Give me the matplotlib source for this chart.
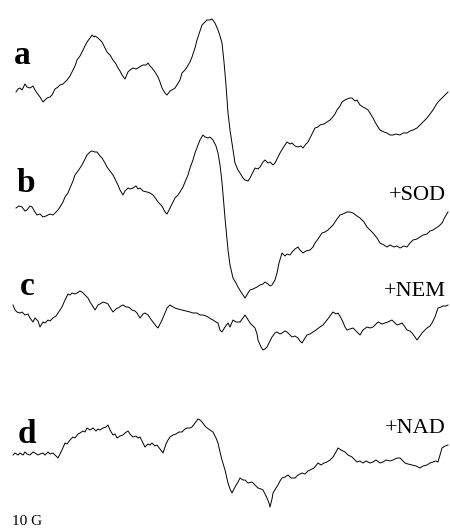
import matplotlib.pyplot as plt

# traces as (x, y) points, in figure pixel units (x right, y down)
trace_a = [
    (16, 92), (18, 89), (20, 88), (22, 90), (25, 84), (27, 87), (30, 88), (33, 86), (35, 90), (37, 93),
    (40, 97), (43, 102), (45, 100), (47, 98), (50, 97), (52, 95), (55, 89), (58, 87), (60, 85), (63, 84),
    (67, 80), (70, 76), (72, 72), (75, 66), (77, 60), (80, 56), (82, 52), (85, 46), (87, 42), (90, 38),
    (92, 35), (94, 37), (95, 36), (98, 38), (100, 40), (102, 42), (105, 48), (107, 52), (110, 55),
    (113, 60), (116, 64), (118, 68), (120, 71), (122, 75), (125, 79), (128, 72), (130, 70), (133, 68),
    (136, 69), (138, 68), (141, 66), (143, 65), (146, 65), (148, 63), (150, 66), (152, 68), (155, 72),
    (158, 77), (160, 82), (162, 88), (165, 93), (167, 95), (170, 91), (172, 90), (175, 88), (177, 85),
    (180, 80), (182, 73), (185, 70), (187, 67), (190, 62), (192, 57), (195, 48), (197, 40), (200, 31),
    (202, 25), (205, 22), (207, 20), (210, 20), (212, 19), (215, 23), (218, 30), (220, 36), (222, 43),
    (224, 62), (226, 85), (228, 113), (230, 130), (232, 143), (235, 163), (238, 170), (240, 173),
    (243, 178), (245, 180), (248, 181), (250, 178), (253, 172), (255, 168), (258, 169), (260, 167),
    (263, 162), (265, 160), (268, 163), (270, 162), (273, 165), (275, 163), (278, 157), (280, 153),
    (283, 148), (287, 142), (290, 144), (292, 143), (295, 146), (298, 147), (301, 146), (303, 148),
    (306, 144), (308, 142), (311, 136), (315, 128), (318, 127), (320, 125), (324, 124), (327, 122),
    (330, 120), (332, 118), (335, 114), (337, 110), (340, 106), (342, 102), (345, 100), (347, 99),
    (350, 98), (352, 98), (355, 101), (357, 100), (360, 105), (363, 107), (365, 108), (368, 110),
    (370, 113), (373, 118), (375, 122), (378, 127), (380, 130), (384, 132), (387, 133), (390, 135),
    (393, 135), (396, 134), (400, 135), (403, 133), (407, 133), (410, 131), (413, 130), (417, 128),
    (420, 125), (424, 121), (427, 118), (430, 114), (433, 110), (436, 105), (438, 102), (441, 99),
    (443, 97), (446, 94), (448, 92),
]

trace_b = [
    (16, 208), (19, 206), (22, 207), (25, 211), (27, 210), (30, 206), (32, 207), (35, 212), (37, 215),
    (40, 214), (43, 217), (46, 216), (48, 215), (50, 214), (53, 215), (55, 213), (58, 210), (60, 207),
    (63, 202), (65, 197), (68, 193), (70, 188), (73, 181), (75, 175), (78, 171), (80, 168), (82, 165),
    (85, 159), (87, 155), (90, 152), (92, 151), (95, 152), (97, 152), (100, 156), (102, 158), (105, 163),
    (107, 167), (110, 171), (113, 175), (115, 179), (118, 185), (120, 190), (123, 195), (125, 191),
    (128, 188), (130, 189), (133, 188), (136, 186), (138, 189), (140, 188), (143, 191), (147, 192),
    (150, 193), (153, 195), (156, 199), (158, 202), (161, 205), (163, 208), (165, 212), (167, 214),
    (170, 208), (172, 204), (175, 198), (178, 195), (180, 192), (183, 187), (185, 182), (188, 175),
    (190, 168), (193, 160), (195, 153), (198, 145), (200, 140), (203, 135), (205, 137), (208, 138),
    (210, 137), (213, 140), (216, 146), (218, 153), (220, 165), (222, 182), (225, 218), (228, 250),
    (230, 265), (233, 278), (236, 283), (238, 287), (241, 292), (243, 295), (245, 298), (248, 293),
    (250, 290), (253, 289), (257, 287), (260, 285), (263, 284), (265, 282), (268, 284), (270, 286),
    (272, 285), (275, 280), (277, 273), (279, 263), (282, 253), (285, 256), (287, 254), (290, 255),
    (293, 251), (295, 249), (298, 247), (300, 250), (303, 253), (306, 251), (310, 250), (313, 247),
    (315, 243), (318, 239), (322, 233), (325, 232), (328, 230), (331, 227), (333, 225), (337, 219),
    (340, 215), (343, 214), (347, 212), (350, 212), (353, 213), (357, 216), (360, 218), (364, 222),
    (367, 227), (370, 230), (373, 233), (377, 238), (380, 243), (384, 245), (387, 247), (390, 245),
    (394, 247), (397, 246), (400, 248), (404, 246), (407, 247), (410, 243), (413, 240), (417, 239),
    (420, 237), (423, 235), (427, 234), (430, 231), (433, 230), (436, 228), (439, 226), (442, 223),
    (445, 217), (448, 212),
]

trace_c = [
    (13, 305), (15, 310), (17, 312), (20, 313), (22, 312), (25, 315), (28, 314), (30, 318), (33, 322),
    (35, 318), (38, 321), (40, 327), (43, 322), (45, 323), (48, 320), (50, 321), (53, 318), (56, 316),
    (58, 313), (60, 310), (62, 307), (65, 300), (68, 294), (70, 295), (72, 293), (75, 294), (77, 293),
    (80, 291), (82, 292), (85, 295), (88, 298), (90, 302), (92, 305), (95, 310), (98, 305), (100, 304),
    (103, 302), (106, 303), (108, 304), (111, 309), (113, 312), (116, 309), (118, 308), (121, 306),
    (123, 305), (126, 307), (128, 307), (130, 308), (132, 310), (135, 311), (137, 313), (140, 318),
    (143, 314), (145, 313), (148, 315), (150, 318), (153, 322), (156, 326), (158, 328), (160, 324),
    (162, 320), (165, 313), (167, 308), (170, 305), (173, 307), (175, 308), (178, 309), (182, 310),
    (186, 311), (190, 312), (193, 313), (197, 313), (200, 315), (203, 315), (206, 316), (208, 317),
    (211, 319), (213, 320), (216, 322), (218, 323), (220, 330), (222, 332), (225, 327), (228, 323),
    (230, 327), (233, 320), (236, 322), (240, 322), (243, 318), (245, 315), (247, 318), (250, 323),
    (253, 326), (255, 328), (257, 334), (258, 340), (261, 347), (263, 350), (265, 349), (267, 347),
    (270, 341), (272, 337), (275, 333), (277, 332), (280, 334), (282, 333), (285, 331), (287, 332),
    (290, 335), (292, 337), (295, 336), (298, 338), (300, 341), (302, 343), (305, 338), (307, 335),
    (310, 334), (313, 332), (316, 330), (320, 327), (323, 325), (327, 320), (330, 316), (333, 312),
    (336, 314), (338, 313), (341, 318), (343, 322), (345, 327), (347, 330), (350, 329), (353, 328),
    (356, 331), (360, 335), (363, 330), (367, 327), (370, 328), (373, 327), (376, 324), (378, 322),
    (382, 324), (385, 323), (388, 322), (392, 320), (395, 323), (397, 325), (400, 324), (402, 323),
    (405, 327), (407, 330), (410, 331), (412, 333), (415, 337), (417, 340), (420, 336), (422, 333),
    (425, 330), (427, 328), (430, 326), (432, 323), (434, 319), (435, 317), (437, 311), (438, 308),
    (441, 307), (443, 306), (446, 306), (448, 305),
]

trace_d = [
    (13, 455), (15, 453), (18, 455), (20, 453), (23, 455), (25, 452), (27, 454), (30, 455), (33, 452),
    (35, 453), (38, 455), (40, 454), (43, 453), (45, 455), (48, 452), (50, 454), (53, 453), (55, 455),
    (58, 458), (60, 454), (62, 450), (65, 443), (67, 444), (70, 440), (73, 437), (75, 438), (78, 434),
    (80, 433), (83, 431), (85, 432), (87, 428), (90, 430), (93, 428), (96, 431), (98, 429), (100, 430),
    (103, 428), (106, 427), (108, 425), (110, 430), (113, 435), (115, 434), (117, 438), (120, 436),
    (123, 435), (125, 433), (128, 431), (130, 434), (133, 437), (136, 436), (138, 438), (140, 437),
    (143, 443), (145, 447), (148, 444), (150, 445), (152, 443), (155, 446), (157, 445), (160, 449),
    (163, 453), (166, 444), (168, 440), (170, 437), (173, 435), (176, 434), (179, 432), (182, 432),
    (185, 429), (187, 428), (190, 428), (192, 427), (195, 423), (198, 419), (200, 420), (202, 422),
    (205, 426), (207, 428), (210, 430), (213, 432), (216, 438), (218, 443), (220, 452), (222, 460),
    (225, 470), (228, 483), (230, 489), (232, 493), (235, 487), (238, 482), (240, 478), (243, 480),
    (245, 480), (248, 483), (252, 482), (255, 485), (258, 488), (261, 489), (263, 490), (265, 494),
    (267, 498), (269, 503), (270, 507), (272, 499), (273, 493), (276, 488), (278, 485), (280, 481),
    (282, 478), (285, 477), (288, 475), (291, 478), (295, 478), (298, 475), (302, 473), (305, 474),
    (308, 471), (310, 470), (314, 468), (318, 463), (321, 465), (324, 463), (327, 462), (330, 460),
    (333, 457), (336, 452), (338, 448), (341, 450), (345, 452), (348, 455), (352, 457), (355, 460),
    (357, 462), (360, 461), (363, 463), (366, 461), (370, 463), (373, 462), (376, 460), (380, 463),
    (383, 462), (386, 460), (390, 461), (393, 460), (397, 458), (400, 458), (403, 461), (405, 463),
    (408, 464), (412, 465), (416, 466), (420, 468), (423, 466), (427, 465), (430, 463), (433, 462),
    (436, 461), (438, 462), (440, 455), (442, 448), (445, 446), (448, 445),
]

letters = ["a", "b", "c", "d"]
letter_pos = [(14, 64), (17, 192), (20, 295), (18, 443)]
treatments = ["+SOD", "+NEM", "+NAD"]
treat_pos = [(446, 200), (446, 296), (446, 433)]
scale_label = "10 G"

fig = plt.figure(figsize=(4.5, 5.31), dpi=100)
ax = fig.add_axes([0, 0, 1, 1])
for trace in [trace_a, trace_b, trace_c, trace_d]:
    xs, ys = zip(*trace)
    ax.plot(xs, ys, color="black", lw=0.7)

for lab, (x, y) in zip(letters, letter_pos):
    ax.text(x, y, lab, fontsize=24, fontweight="bold", family="Liberation Serif",
            ha="left", va="baseline")
for lab, (x, y) in zip(treatments, treat_pos):
    ax.text(x, y, lab, fontsize=16, family="Liberation Serif", ha="right", va="baseline")
ax.text(12, 525, scale_label, fontsize=11, family="Liberation Serif", ha="left", va="baseline")

ax.set_xlim(0, 450)
ax.set_ylim(531, 0)
ax.axis("off")
fig.savefig("out.png", dpi=100)
